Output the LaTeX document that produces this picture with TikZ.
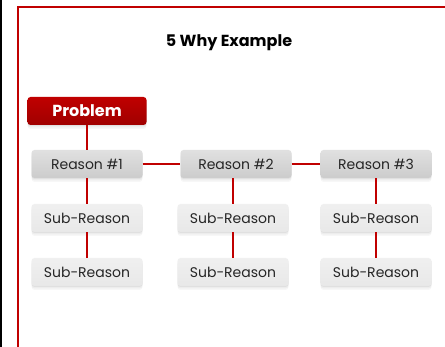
\documentclass[tikz,border=0pt]{standalone}
\usepackage{fontspec}
\setmainfont{Poppins}
\definecolor{whyred}{HTML}{C00000}
\definecolor{whydark}{HTML}{A00000}
\begin{document}
\begin{tikzpicture}[x=1pt,y=-1pt]
\tikzset{softshadow/.style={preaction={fill=black, opacity=0.03, transform canvas={yshift=-4pt}}, preaction={fill=black, opacity=0.04, transform canvas={yshift=-2.5pt}}, preaction={fill=black, opacity=0.05, transform canvas={yshift=-1pt}}}}
\tikzset{probbox/.style={softshadow, rounded corners=3pt, top color=whyred, bottom color=whydark, text=white, font=\bfseries\fontsize{16}{18}\selectfont, minimum width=119pt, minimum height=28pt, inner sep=0pt}}
\tikzset{reasonbox/.style={softshadow, rounded corners=3pt, top color=black!12, bottom color=black!20, text=black!85, font=\fontsize{14}{16}\selectfont, minimum width=111pt, minimum height=28pt, inner sep=0pt}}
\tikzset{subbox/.style={reasonbox, top color=black!6, bottom color=black!9}}
\tikzset{link/.style={whyred, line width=2pt}}
\useasboundingbox (0,0) rectangle (445,347);
\fill[white] (0,0) rectangle (445,347);
\draw[black, line width=1.5pt] (0.75,0) -- (0.75,347);
\draw[whyred, line width=2pt] (445,7) -- (18,7) -- (18,347);
\node[font=\bfseries\fontsize{16}{18}\selectfont] (title) at (229,43) {5 Why Example};
\node[probbox] (prob) at (87,111) {Problem};
\node[reasonbox] (r1) at (87,164) {Reason \#1};
\node[reasonbox] (r2) at (236,164) {Reason \#2};
\node[reasonbox] (r3) at (376,164) {Reason \#3};
\node[subbox] (s1a) at (87,218) {Sub-Reason};
\node[subbox] (s1b) at (87,272) {Sub-Reason};
\node[subbox] (s2a) at (233,218) {Sub-Reason};
\node[subbox] (s2b) at (233,272) {Sub-Reason};
\node[subbox] (s3a) at (376,218) {Sub-Reason};
\node[subbox] (s3b) at (376,272) {Sub-Reason};
\draw[link] (prob) -- (r1);
\draw[link] (r1) -- (r2);
\draw[link] (r2) -- (r3);
\draw[link] (s1a) -- (r1);
\draw[link] (s1a) -- (s1b);
\draw[link] (s2a.north) -- (s2a.north |- r2.south);
\draw[link] (s2a) -- (s2b);
\draw[link] (s3a) -- (r3);
\draw[link] (s3a) -- (s3b);
\end{tikzpicture}
\end{document}
